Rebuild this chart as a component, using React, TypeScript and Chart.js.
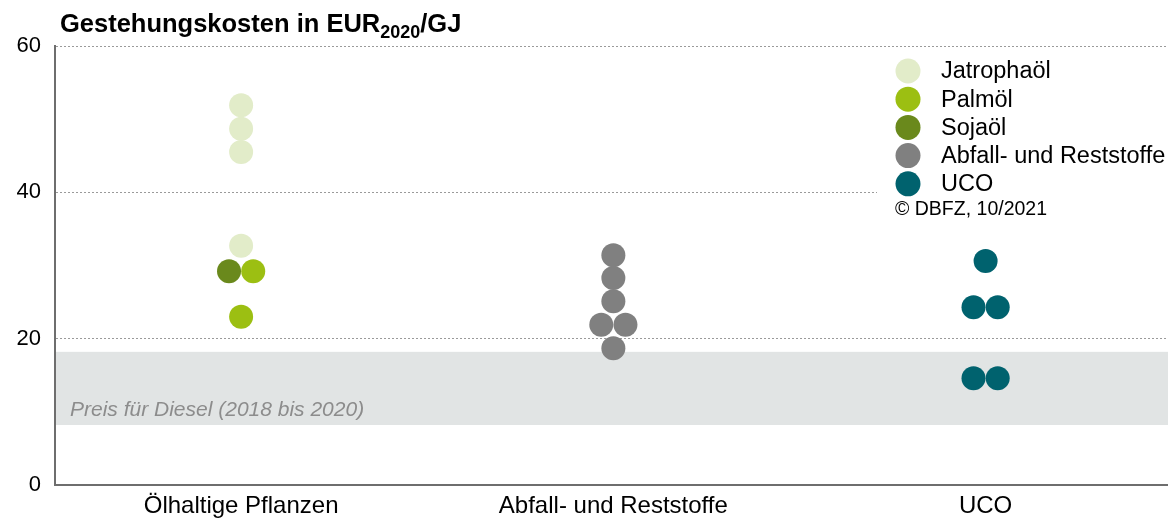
import React, { useEffect, useRef } from "react";
import { Chart, registerables } from "chart.js";

Chart.register(...registerables);

// ---------- data ----------
const categories = ["Ölhaltige Pflanzen", "Abfall- und Reststoffe", "UCO"];
const yTicks = [0, 20, 40, 60];

// values in EUR2020/GJ, category index, and side-by-side slot (-1 left, 0 centre, 1 right)
const jatrophaValues = [51.9, 48.7, 45.5, 32.7];
const jatrophaCategory = [0, 0, 0, 0];
const jatrophaSlot = [0, 0, 0, 0];

const palmValues = [29.2, 23.0];
const palmCategory = [0, 0];
const palmSlot = [1, 0];

const sojaValues = [29.2];
const sojaCategory = [0];
const sojaSlot = [-1];

const abfallValues = [31.4, 28.3, 25.1, 21.9, 21.9, 18.7];
const abfallCategory = [1, 1, 1, 1, 1, 1];
const abfallSlot = [0, 0, 0, -1, 1, 0];

const ucoValues = [30.6, 24.3, 24.3, 14.6, 14.6];
const ucoCategory = [2, 2, 2, 2, 2];
const ucoSlot = [0, -1, 1, -1, 1];

const seriesLabels = ["Jatrophaöl", "Palmöl", "Sojaöl", "Abfall- und Reststoffe", "UCO"];
const dieselRange = [8.2, 18.2];
const dieselLabel = "Preis für Diesel (2018 bis 2020)";
const titleMain = "Gestehungskosten in EUR";
const titleSub = "2020";
const titleEnd = "/GJ";
const copyright = "© DBFZ, 10/2021";

// ---------- styles ----------
const FONT = "'Liberation Sans', Arial, Helvetica, sans-serif";
const colors = ["#e2ecc9", "#9cbf12", "#6a891c", "#808080", "#00626e"];
const SLOT_WIDTH = 0.0325;
const POINT_RADIUS = 12;

function toPoints(values: number[], cats: number[], slots: number[]) {
  return values.map((v, i) => ({ x: cats[i] + slots[i] * SLOT_WIDTH, y: v }));
}

const bandPlugin = {
  id: "dieselBand",
  beforeDatasetsDraw(chart: any) {
    const { ctx, chartArea, scales } = chart;
    const y1 = scales.y.getPixelForValue(dieselRange[1]);
    const y0 = scales.y.getPixelForValue(dieselRange[0]);
    ctx.save();
    ctx.fillStyle = "#e1e4e4";
    ctx.fillRect(chartArea.left + 1, y1, chartArea.right - chartArea.left - 1, y0 - y1);
    ctx.fillStyle = "#8c8c8c";
    ctx.font = `italic 21px ${FONT}`;
    ctx.textBaseline = "middle";
    ctx.textAlign = "left";
    ctx.fillText(dieselLabel, chartArea.left + 15, y0 - 15);
    ctx.restore();
  },
};

const overlayPlugin = {
  id: "overlay",
  afterDraw(chart: any) {
    const { ctx } = chart;
    ctx.save();
    // title
    ctx.fillStyle = "#000";
    ctx.textBaseline = "alphabetic";
    ctx.textAlign = "left";
    let x = 60;
    ctx.font = `bold 25.5px ${FONT}`;
    ctx.fillText(titleMain, x, 32);
    x += ctx.measureText(titleMain).width;
    ctx.font = `bold 18px ${FONT}`;
    ctx.fillText(titleSub, x, 38);
    x += ctx.measureText(titleSub).width;
    ctx.font = `bold 25.5px ${FONT}`;
    ctx.fillText(titleEnd, x, 32);

    // legend
    ctx.fillStyle = "#ffffff";
    ctx.fillRect(877, 54, 1168 - 877, 168);
    const rowY = 71;
    const rowH = 28.2;
    chart.data.datasets.forEach((ds: any, i: number) => {
      const cy = rowY + i * rowH;
      ctx.beginPath();
      ctx.arc(908, cy, 12.5, 0, Math.PI * 2);
      ctx.fillStyle = ds.backgroundColor;
      ctx.fill();
      ctx.fillStyle = "#000";
      ctx.font = `23.5px ${FONT}`;
      ctx.textBaseline = "middle";
      ctx.fillText(ds.label, 941, cy + 1);
    });
    ctx.font = `19.5px ${FONT}`;
    ctx.fillText(copyright, 895, rowY + 5 * rowH - 2);
    ctx.restore();
  },
};

export default function App() {
  const ref = useRef<HTMLCanvasElement | null>(null);

  useEffect(() => {
    if (!ref.current) return;
    const pointSets = [
      toPoints(jatrophaValues, jatrophaCategory, jatrophaSlot),
      toPoints(palmValues, palmCategory, palmSlot),
      toPoints(sojaValues, sojaCategory, sojaSlot),
      toPoints(abfallValues, abfallCategory, abfallSlot),
      toPoints(ucoValues, ucoCategory, ucoSlot),
    ];
    const chart = new Chart(ref.current, {
      type: "scatter",
      data: {
        datasets: pointSets.map((pts, i) => ({
          label: seriesLabels[i],
          data: pts,
          backgroundColor: colors[i],
          borderWidth: 0,
          pointRadius: POINT_RADIUS,
          pointHoverRadius: POINT_RADIUS,
        })),
      },
      options: {
        animation: false,
        responsive: false,
        layout: { autoPadding: false, padding: { top: 46, left: 0, right: 0, bottom: 0 } },
        plugins: { legend: { display: false }, tooltip: { enabled: false }, title: { display: false } },
        scales: {
          x: {
            type: "linear",
            min: -0.5,
            max: 2.49,
            afterBuildTicks: (scale: any) => {
              scale.ticks = categories.map((_, i) => ({ value: i }));
            },
            afterFit: (scale: any) => {
              scale.height = 36;
              scale.paddingLeft = 0;
              scale.paddingRight = 0;
            },
            ticks: {
              callback: (v: any) => categories[Math.round(Number(v))] ?? "",
              font: { size: 24, family: FONT },
              color: "#000",
              padding: 7,
              maxRotation: 0,
              autoSkip: false,
            },
            grid: { display: false, drawTicks: false },
            border: { display: true, color: "#6e6e6e", width: 2 },
          },
          y: {
            min: 0,
            max: 60,
            afterBuildTicks: (scale: any) => {
              scale.ticks = yTicks.map((v) => ({ value: v }));
            },
            afterFit: (scale: any) => {
              scale.width = 55;
            },
            ticks: {
              font: { size: 22, family: FONT },
              color: "#000",
              padding: 14,
            },
            grid: {
              drawTicks: false,
              color: (c: any) => (c.tick && c.tick.value === 0 ? "rgba(0,0,0,0)" : "#9a9a9a"),
              lineWidth: 1,
            },
            border: { display: true, color: "#6e6e6e", width: 2, dash: [2, 2] },
          },
        },
      },
      plugins: [bandPlugin, overlayPlugin],
    });
    return () => chart.destroy();
  }, []);

  return (
    <div style={{ position: "absolute", left: 0, top: 0, width: 1168, height: 521, background: "#fff" }}>
      <canvas ref={ref} width={1168} height={521} style={{ display: "block" }} />
    </div>
  );
}
